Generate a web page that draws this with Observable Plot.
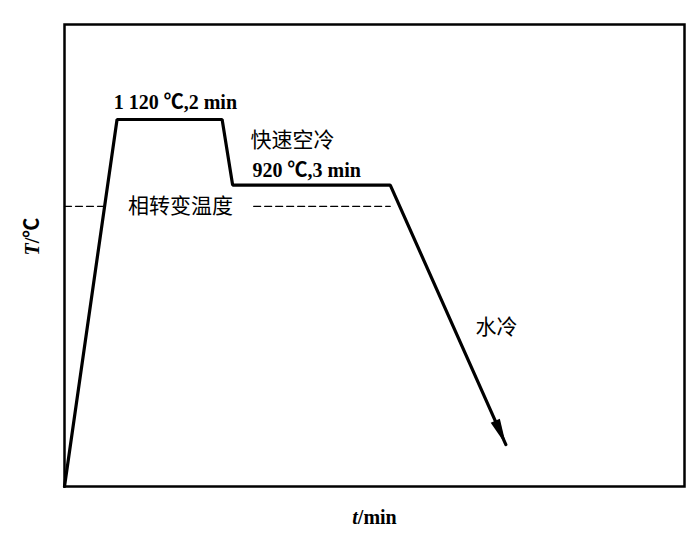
<!DOCTYPE html>
<html><head><meta charset="utf-8">
<script src="https://cdn.jsdelivr.net/npm/d3@7"></script>
<script src="https://cdn.jsdelivr.net/npm/@observablehq/plot@0.6"></script>
<style>
body{margin:0;background:#fff}
svg text{font-family:"Liberation Serif","Noto Sans CJK SC",serif}
</style>
</head><body><div id="chart"></div>
<script>
// Heat-treatment schedule (schematic): time in min, temperature in ℃
const times = [0, 1, 3, 3.2, 6.2, 8.4];
const temps = [0, 1120, 1120, 920, 920, 128];
// phase transformation temperature (dashed reference line)
const phaseTemp = 855;
const phaseLeft = [0, 0.83];
const phaseRight = [3.6, 6.2];
// annotation texts
const labelHold1 = "1 120 ℃,2 min";
const labelAirCool = "快速空冷";
const labelHold2 = "920 ℃,3 min";
const labelPhase = "相转变温度";
const labelWater = "水冷";
const xLabel = "t/min";
const yLabel = "T/℃";

const schedule = times.map((t, i) => ({t, T: temps[i]}));
const dashL = phaseLeft.map(t => ({t, T: phaseTemp}));
const dashR = phaseRight.map(t => ({t, T: phaseTemp}));

function arrowHead(color) {
  const m = d3.create("svg:marker")
    .attr("viewBox", "-27 -6 28 12")
    .attr("markerWidth", 28).attr("markerHeight", 12)
    .attr("markerUnits", "userSpaceOnUse")
    .attr("orient", "auto")
    .attr("refX", 0).attr("refY", 0)
    .attr("fill", color).attr("stroke", "none");
  m.append("path").attr("d", "M0.5,0L-26,-5L-26,5Z");
  return m.node();
}

const latin = {fontFamily: "Liberation Serif, serif", fontWeight: "bold", fontSize: 20, fill: "black"};
const cjk = {fontFamily: "Noto Sans CJK SC", fontSize: 21, fill: "black"};

const chart = Plot.plot({
  width: 700, height: 537,
  marginLeft: 64, marginRight: 16, marginTop: 24, marginBottom: 51,
  x: {domain: [0, 11.8], axis: null},
  y: {domain: [0, 1410], axis: null},
  marks: [
    Plot.frame({stroke: "black", strokeWidth: 2.5}),
    Plot.line(dashL, {x: "t", y: "T", stroke: "black", strokeWidth: 1.3, strokeDasharray: "7,4"}),
    Plot.line(dashR, {x: "t", y: "T", stroke: "black", strokeWidth: 1.3, strokeDasharray: "7,4"}),
    Plot.line(schedule, {x: "t", y: "T", stroke: "black", strokeWidth: 3.2, strokeLinejoin: "miter", markerEnd: arrowHead}),
    Plot.text([labelHold1], {x: 2.11, y: 1173, text: d => d, textAnchor: "middle", lineAnchor: "middle", ...latin}),
    Plot.text([labelAirCool], {x: 3.54, y: 1056, text: d => d, textAnchor: "start", lineAnchor: "middle", ...cjk}),
    Plot.text([labelHold2], {x: 3.58, y: 964, text: d => d, textAnchor: "start", lineAnchor: "middle", ...latin}),
    Plot.text([labelPhase], {x: 2.21, y: phaseTemp, text: d => d, textAnchor: "middle", lineAnchor: "middle", ...cjk}),
    Plot.text([labelWater], {x: 8.22, y: 485, text: d => d, textAnchor: "middle", lineAnchor: "middle", ...cjk}),
    Plot.text([xLabel], {frameAnchor: "bottom", dy: 31, text: d => d, lineAnchor: "middle", ...latin}),
    Plot.text([yLabel], {frameAnchor: "left", dx: -32, rotate: -90, text: d => d, lineAnchor: "middle", ...latin})
  ]
});

// italicize the variable symbols in the axis labels
d3.select(chart).selectAll("text").each(function() {
  const s = this.textContent;
  if (s === xLabel || s === yLabel) {
    const sel = d3.select(this);
    sel.text(null);
    sel.append("tspan").attr("font-style", "italic").text(s[0]);
    sel.append("tspan").text(s.slice(1));
  }
});

document.getElementById("chart").appendChild(chart);
</script>
</body></html>
